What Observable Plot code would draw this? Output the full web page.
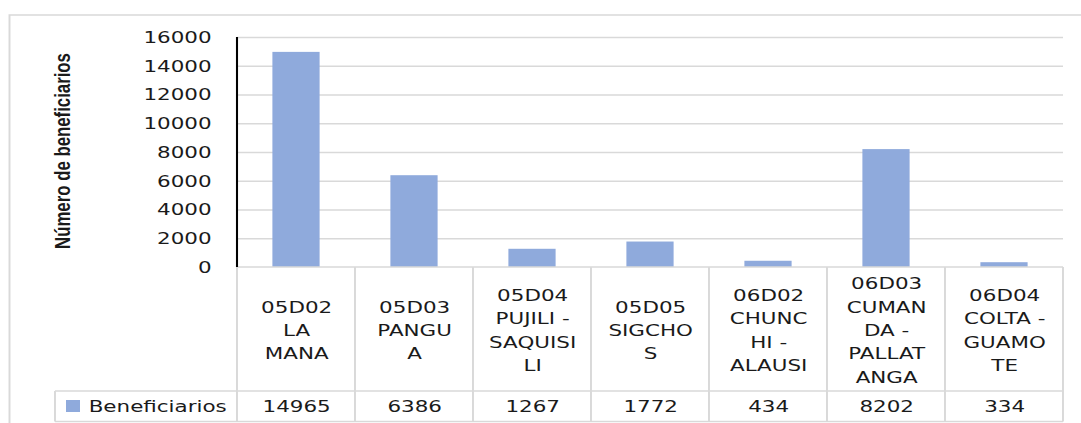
<!DOCTYPE html>
<html>
<head>
<meta charset="utf-8">
<script src="https://cdn.jsdelivr.net/npm/d3@7"></script>
<script src="https://cdn.jsdelivr.net/npm/@observablehq/plot@0.6"></script>
<style>
  html, body { margin: 0; padding: 0; background: #fff; }
  #chart { width: 1081px; height: 423px; overflow: hidden; }
</style>
</head>
<body>
<div id="chart"></div>
<script>
// ---- data ----
const categories = ["05D02 LA MANA", "05D03 PANGUA", "05D04 PUJILI - SAQUISILI", "05D05 SIGCHOS",
                    "06D02 CHUNCHI - ALAUSI", "06D03 CUMANDA - PALLATANGA", "06D04 COLTA - GUAMOTE"];
const categoryLines = ["05D02\nLA\nMANA", "05D03\nPANGU\nA", "05D04\nPUJILI -\nSAQUISI\nLI", "05D05\nSIGCHO\nS",
                       "06D02\nCHUNC\nHI -\nALAUSI", "06D03\nCUMAN\nDA -\nPALLAT\nANGA", "06D04\nCOLTA -\nGUAMO\nTE"];
const values = [14965, 6386, 1267, 1772, 434, 8202, 334];
const seriesName = "Beneficiarios";
const yTicks = [0, 2000, 4000, 6000, 8000, 10000, 12000, 14000, 16000];
const yTitle = "Número de beneficiarios";

const rows = categories.map((c, i) => ({category: c, lines: categoryLines[i], value: values[i]}));

// ---- layout (original image is horizontally stretched) ----
const S = 1.3;                 // horizontal stretch
const OUT_W = 1081, H = 423;
const W = OUT_W / S;
const mL = 237 / S, mR = (1081 - 1063) / S, mT = 37, mB = H - 267;
const bw = (W - mL - mR) / categories.length;
const barColor = "#8FAADC";
const gridColor = "#d9d9d9";
const textColor = "#1a1a1a";
const fontSize = 16.5;

const chart = Plot.plot({
  width: W,
  height: H,
  marginLeft: mL,
  marginRight: mR,
  marginTop: mT,
  marginBottom: mB,
  style: {fontFamily: "'DejaVu Sans', sans-serif", fontSize: fontSize + "px", color: textColor, background: "white", overflow: "visible"},
  x: {domain: categories, padding: 0, round: false, axis: null},
  y: {domain: [0, 16000], axis: null},
  marks: [
    Plot.gridY(yTicks.filter(d => d > 0), {stroke: gridColor, strokeOpacity: 1, strokeWidth: 1.5}),
    Plot.barY(rows, {x: "category", y: "value", fill: barColor, insetLeft: bw * 0.3, insetRight: bw * 0.3}),
    Plot.axisY({ticks: yTicks, tickSize: 0, tickPadding: 20, tickFormat: d => String(d), fill: textColor, fontSize: fontSize, label: null}),
    Plot.text([yTitle], {frameAnchor: "left", rotate: -90, dx: 48 - mL, dy: -1.5,
      textAnchor: "middle", lineAnchor: "middle", fontFamily: "'Liberation Sans', sans-serif",
      fontWeight: "bold", fontSize: 16.8, fill: textColor}),
    // category labels (table header row)
    Plot.text(rows, {x: "category", text: "lines", frameAnchor: "bottom", dy: 61, lineAnchor: "middle",
      lineHeight: 1.42, fill: textColor, fontSize: fontSize}),
    // values (table data row)
    Plot.text(rows, {x: "category", text: d => String(d.value), frameAnchor: "bottom", dy: 139.5,
      lineAnchor: "middle", fill: textColor, fontSize: fontSize}),
    // legend text
    Plot.text([seriesName], {frameAnchor: "bottom-left", dx: 88 / S - mL, dy: 139.5, textAnchor: "start",
      lineAnchor: "middle", fill: textColor, fontSize: fontSize})
  ]
});

// stretch horizontally
chart.setAttribute("width", OUT_W);
chart.setAttribute("height", H);
chart.setAttribute("viewBox", `0 0 ${W} ${H}`);
chart.setAttribute("preserveAspectRatio", "none");
chart.style.width = OUT_W + "px";
chart.style.height = H + "px";
chart.style.maxWidth = "none";

// table grid, axis line, legend swatch, outer border — placed with Plot's x scale
const xs = chart.scale("x");
const svg = d3.select(chart);
const deco = svg.append("g").attr("fill", "none");
const x0 = xs.apply(categories[0]);
const xEnd = xs.apply(categories[categories.length - 1]) + xs.bandwidth;
const yTop = H - mB, yMid = 391, yBot = 421.5, xLeg = 55 / S;

// outer chart border
deco.append("path").attr("d", `M${9.5 / S},${H + 5}V15H${W + 10}`).attr("stroke", gridColor).attr("stroke-width", 1.5);
// horizontal table lines
deco.append("line").attr("x1", x0).attr("x2", xEnd).attr("y1", yTop).attr("y2", yTop).attr("stroke", gridColor).attr("stroke-width", 1.5);
deco.append("line").attr("x1", xLeg).attr("x2", xEnd).attr("y1", yMid).attr("y2", yMid).attr("stroke", gridColor).attr("stroke-width", 1.5);
deco.append("line").attr("x1", xLeg).attr("x2", xEnd).attr("y1", yBot).attr("y2", yBot).attr("stroke", gridColor).attr("stroke-width", 1.5);
// vertical table lines
deco.append("line").attr("x1", xLeg).attr("x2", xLeg).attr("y1", yMid).attr("y2", yBot).attr("stroke", gridColor).attr("stroke-width", 1.5);
categories.forEach((c, i) => {
  const xv = xs.apply(c);
  deco.append("line").attr("x1", xv).attr("x2", xv).attr("y1", yTop).attr("y2", yBot).attr("stroke", gridColor).attr("stroke-width", 1.5);
});
deco.append("line").attr("x1", xEnd).attr("x2", xEnd).attr("y1", yTop).attr("y2", yBot).attr("stroke", gridColor).attr("stroke-width", 1.5);
// y axis line (black)
deco.append("line").attr("x1", x0).attr("x2", x0).attr("y1", mT).attr("y2", yTop).attr("stroke", "#000").attr("stroke-width", 1.6);
// legend swatch
deco.append("rect").attr("x", 66 / S).attr("y", 400).attr("width", 14 / S).attr("height", 12).attr("fill", barColor);

document.getElementById("chart").appendChild(chart);
</script>
</body>
</html>
